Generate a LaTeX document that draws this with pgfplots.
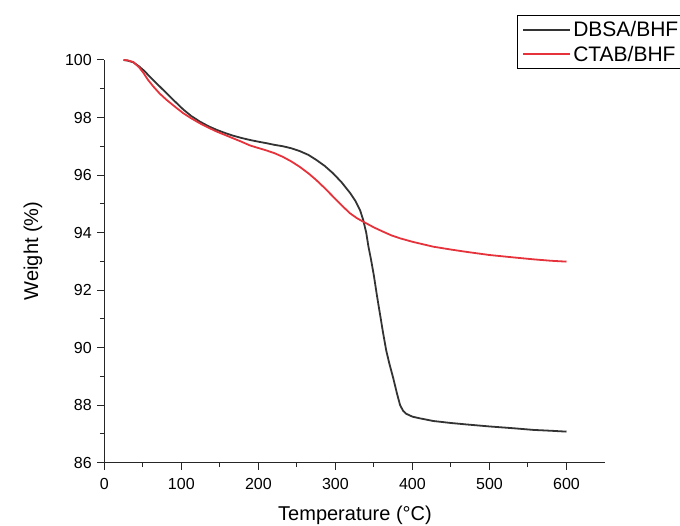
\documentclass[border=0pt]{standalone}
\usepackage{pgfplots}
\pgfplotsset{compat=1.18}
\usepackage{fontspec}
\setmainfont{Liberation Sans}
\definecolor{cblack}{HTML}{333333}
\definecolor{cred}{HTML}{E5323B}
\begin{document}
\begin{tikzpicture}
\path[use as bounding box] (0pt,0pt) rectangle (680pt,526pt);
\begin{axis}[
  at={(104.3pt,63.3pt)}, anchor=south west,
  scale only axis, width=500.7pt, height=402.7pt,
  xmin=0, xmax=650, ymin=86, ymax=100,
  axis x line*=bottom, axis y line*=left,
  axis line style={line width=1pt, color=black!85},
  xtick={0,100,...,600}, ytick={86,88,...,100},
  minor x tick num=1, minor y tick num=1,
  tick align=outside,
  major tick length=7pt, minor tick length=4.5pt,
  tick style={line width=1pt, color=black!85},
  /pgf/number format/assume math mode=true,
  ticklabel style={font=\fontsize{16}{18}\selectfont},
  xticklabel style={yshift=-5pt},
  yticklabel style={xshift=-2pt},
  xlabel={Temperature (°C)}, ylabel={Weight (\%)},
  label style={font=\fontsize{20}{22}\selectfont},
  xlabel style={at={(axis description cs:0.5007,0)}, anchor=center, yshift=-52.3pt},
  ylabel style={at={(axis description cs:0,0.526)}, anchor=center, rotate=0, yshift=71.3pt},
  legend style={at={(rel axis cs:0.824,1.112)}, anchor=north west, draw=black, line width=0.8pt,
    font=\fontsize{21}{23}\selectfont, inner xsep=5pt, inner ysep=4pt, row sep=4pt},
  legend cell align=left,
  legend image code/.code={\draw[#1, line width=2pt] (0pt,0pt) -- (47pt,0pt);},
]
\addplot[cblack, line width=1.8pt] coordinates {
(25,100) (30,99.98) (37.6,99.92) (45,99.78) (52,99.62) (59,99.42) (70,99.13) (81,98.84) (92,98.55)
(102.5,98.28) (113,98.05) (124,97.86) (135,97.7) (146,97.57) (157,97.46) (167,97.37)
(178,97.29) (189,97.22) (200,97.16) (210,97.11) (221,97.05) (232,97.0) (243,96.93)
(254,96.83) (265,96.7) (275,96.53) (286,96.32) (297,96.06) (308,95.75) (319,95.38)
(326,95.1) (332,94.78) (336,94.45) (340,94.0) (343,93.5) (346,93.1) (350,92.5)
(354,91.8) (358,91.15) (362,90.5) (366,89.9) (370,89.45) (375,88.95) (380,88.4)
(384,88.0) (388,87.8) (392,87.7) (400,87.6) (410,87.54) (427,87.45) (450,87.38)
(470,87.33) (500,87.26) (530,87.2) (557,87.14) (580,87.11) (600,87.08)
};
\addlegendentry{DBSA/BHF}
\addplot[cred, line width=1.8pt] coordinates {
(25,100) (30,99.99) (37.6,99.93) (45,99.75) (50.6,99.56) (57,99.3) (63.6,99.08)
(72,98.83) (81,98.61) (92,98.37) (102.5,98.15) (113,97.97) (124,97.80) (135,97.65)
(146,97.51) (157,97.39) (167,97.28) (178,97.16) (189,97.03) (200,96.94) (210,96.86)
(221,96.76) (232,96.63) (243,96.47) (254,96.28) (265,96.06) (275,95.83) (286,95.55)
(297,95.25) (308,94.95) (319,94.67) (328,94.5) (336,94.38) (350,94.18) (362,94.03)
(373,93.9) (384,93.8) (400,93.68) (427,93.51) (450,93.41) (470,93.33) (500,93.22)
(530,93.14) (557,93.07) (580,93.02) (600,92.99)
};
\addlegendentry{CTAB/BHF}
\end{axis}
\end{tikzpicture}
\end{document}
